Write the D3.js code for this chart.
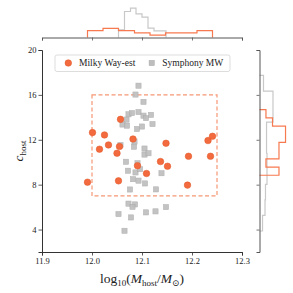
<!DOCTYPE html>
<html>
<head>
<meta charset="utf-8">
<script src="https://cdn.jsdelivr.net/npm/d3@7"></script>
<style>
  html, body { margin: 0; padding: 0; background: #fff; }
  svg text { font-family: "Liberation Serif", "DejaVu Serif", serif; fill: #222; }
</style>
</head>
<body>
<div id="chart"></div>
<script>
// ---- data ----
// Milky Way-est hosts: log10 mass and concentration
const mweMass = [12.001, 12.025, 12.057, 12.082, 12.015, 12.033, 12.055, 12.050, 12.137, 12.091,
                 12.148, 12.151, 12.193, 12.237, 12.232, 12.241, 11.991, 12.053, 12.109, 12.191];
const mweConc = [12.64, 12.43, 13.82, 12.07, 11.16, 11.54, 11.40, 10.80, 10.06, 9.69,
                 11.69, 9.64, 10.53, 10.53, 11.93, 12.31, 8.22, 8.34, 9.00, 7.96];

// Symphony MW hosts
const symMass = [12.093, 12.087, 12.103, 12.073, 12.080, 12.093, 12.103, 12.108, 12.118, 12.069,
                 12.061, 12.070, 12.100, 12.090, 12.121, 12.057, 12.085, 12.084, 12.105, 12.105,
                 12.113, 12.068, 12.091, 12.072, 12.087, 12.096, 12.082, 12.093, 12.106, 12.128,
                 12.076, 12.139, 12.073, 12.086, 12.081, 12.053, 12.108, 12.127, 12.078, 12.065, 12.148];
const symConc = [16.82, 16.03, 15.38, 14.27, 14.38, 14.47, 14.15, 13.93, 14.22, 13.80,
                 13.36, 13.26, 13.18, 12.96, 13.40, 11.53, 11.84, 11.38, 11.22, 10.68,
                 10.80, 10.04, 9.91, 9.24, 9.09, 9.38, 8.49, 8.36, 8.11, 7.58,
                 7.57, 9.02, 6.31, 6.24, 6.02, 5.38, 5.53, 5.62, 5.08, 3.89, 6.00];

// selection box
const boxMass = [12.0, 12.25];
const boxConc = [7, 16];

// marginal histograms (step outlines, density)
const topMweEdges = [11.991, 12.022, 12.053, 12.085, 12.116, 12.147, 12.178, 12.210, 12.241];
const topMweDens  = [4.8, 6.4, 4.8, 3.2, 1.6, 3.2, 3.2, 4.8];
const topSymEdges = [12.053, 12.065, 12.077, 12.088, 12.100, 12.112, 12.124, 12.136, 12.148];
const topSymDens  = [5.4, 18.2, 20.6, 16.6, 14.3, 6.6, 4.7, 4.7];

const rightMweEdges = [8.84, 9.57, 10.30, 11.03, 11.76, 12.49, 13.22, 13.95, 14.68];
const rightMweDens  = [0.205, 0.068, 0.205, 0.205, 0.274, 0.274, 0.137, 0.068];
const rightSymEdges = [3.87, 5.26, 6.64, 8.03, 9.41, 10.80, 12.19, 13.57, 14.96, 16.34, 17.73];
const rightSymDens  = [0.032, 0.058, 0.063, 0.079, 0.079, 0.074, 0.074, 0.142, 0.142, 0.042];

const massTicks = [11.9, 12.0, 12.1, 12.2, 12.3];
const concTicks = [4, 8, 12, 16, 20];

const orange = "#f26a3d";
const grey = "#bdbdbd";
const axisCol = "#333";

// ---- layout ----
const svg = d3.select("#chart").append("svg")
  .attr("width", 293).attr("height", 293);

const x = d3.scaleLinear().domain([11.9, 12.3]).range([42, 242]);
const y = d3.scaleLinear().domain([2, 20]).range([252, 50]);
const yTop = d3.scaleLinear().domain([0, 21]).range([37.5, 7.5]);
const xRight = d3.scaleLinear().domain([0, 0.35]).range([259.5, 292.75]);

// ---- main axes ----
const gx = svg.append("g").attr("transform", "translate(0,252)")
  .call(d3.axisBottom(x).tickValues(massTicks).tickFormat(d3.format(".1f"))
    .tickSizeOuter(0).tickSize(3.5).tickPadding(2));
const gy = svg.append("g").attr("transform", "translate(42,0)")
  .call(d3.axisLeft(y).tickValues(concTicks).tickFormat(d3.format("d"))
    .tickSizeOuter(0).tickSize(3.5).tickPadding(2));
[gx, gy].forEach(g => {
  g.select(".domain").attr("stroke", axisCol).attr("stroke-width", 1);
  g.selectAll(".tick line").attr("stroke", axisCol).attr("stroke-width", 0.8);
  g.selectAll(".tick text").attr("font-size", 8.5).attr("fill", "#333")
    .style("font-family", "Liberation Serif, serif");
});

// selection box
svg.append("rect")
  .attr("x", x(boxMass[0])).attr("y", y(boxConc[1]))
  .attr("width", x(boxMass[1]) - x(boxMass[0]))
  .attr("height", y(boxConc[0]) - y(boxConc[1]))
  .attr("fill", "none").attr("stroke", "#f5855d").attr("stroke-opacity", 0.85)
  .attr("stroke-width", 1.2).attr("stroke-dasharray", "4,2.5");

// Symphony squares
svg.append("g").selectAll("rect")
  .data(d3.range(symMass.length))
  .join("rect")
  .attr("x", i => x(symMass[i]) - 2.6)
  .attr("y", i => y(symConc[i]) - 2.6)
  .attr("width", 5.2).attr("height", 5.2)
  .attr("fill", grey).attr("stroke", "#a8a8a8").attr("stroke-width", 0.5)
  .attr("opacity", 0.9);

// Milky Way-est circles
svg.append("g").selectAll("circle")
  .data(d3.range(mweMass.length))
  .join("circle")
  .attr("cx", i => x(mweMass[i]))
  .attr("cy", i => y(mweConc[i]))
  .attr("r", 3.3)
  .attr("fill", orange).attr("stroke", "#e0582b").attr("stroke-width", 0.5);

// ---- marginal histograms ----
function stepPoints(edges, dens) {
  const pts = [[edges[0], 0]];
  dens.forEach((d, i) => { pts.push([edges[i], d]); pts.push([edges[i + 1], d]); });
  pts.push([edges[edges.length - 1], 0]);
  return pts;
}
const topLine = d3.line().x(d => x(d[0])).y(d => yTop(d[1]));
const rightLine = d3.line().x(d => xRight(d[1])).y(d => y(d[0]));

svg.append("path").attr("d", topLine(stepPoints(topSymEdges, topSymDens)))
  .attr("fill", "none").attr("stroke", "#c8c8c8").attr("stroke-width", 1.2);
svg.append("path").attr("d", topLine(stepPoints(topMweEdges, topMweDens)))
  .attr("fill", "none").attr("stroke", "#f7794f").attr("stroke-width", 1.2);

svg.append("path").attr("d", rightLine(stepPoints(rightSymEdges, rightSymDens)))
  .attr("fill", "none").attr("stroke", "#c8c8c8").attr("stroke-width", 1.2);
svg.append("path").attr("d", rightLine(stepPoints(rightMweEdges, rightMweDens)))
  .attr("fill", "none").attr("stroke", "#f7794f").attr("stroke-width", 1.2);

// marginal axes (no labels)
const gTop = svg.append("g").attr("transform", "translate(0,37.5)")
  .call(d3.axisBottom(x).tickValues(massTicks).tickFormat("").tickSizeOuter(0).tickSize(3));
const gRight = svg.append("g").attr("transform", "translate(259.5,0)")
  .call(d3.axisLeft(y).tickValues(concTicks).tickFormat("").tickSizeOuter(0).tickSize(3));
[gTop, gRight].forEach(g => {
  g.select(".domain").attr("stroke", "#555").attr("stroke-width", 1);
  g.selectAll(".tick line").attr("stroke", "#555").attr("stroke-width", 0.8);
});

// ---- legend ----
const lg = svg.append("g");
lg.append("rect").attr("x", 55).attr("y", 55).attr("width", 175).attr("height", 16.5)
  .attr("rx", 2).attr("fill", "#fff").attr("fill-opacity", 0.85)
  .attr("stroke", "#d4d4d4").attr("stroke-width", 0.8);
lg.append("circle").attr("cx", 68.3).attr("cy", 63).attr("r", 3.3)
  .attr("fill", orange).attr("stroke", "#e0582b").attr("stroke-width", 0.5);
lg.append("text").attr("x", 79).attr("y", 66.3).attr("font-size", 9.5).text("Milky Way-est");
lg.append("rect").attr("x", 149.1).attr("y", 60.4).attr("width", 5.2).attr("height", 5.2)
  .attr("fill", grey).attr("stroke", "#a8a8a8").attr("stroke-width", 0.5);
lg.append("text").attr("x", 162.3).attr("y", 66.3).attr("font-size", 9.5).text("Symphony MW");

// ---- axis titles ----
const xl = svg.append("text").attr("x", 142).attr("y", 282.5)
  .attr("text-anchor", "middle").attr("font-size", 13.5);
xl.append("tspan").text("log");
xl.append("tspan").attr("font-size", 9).attr("dy", 3).text("10");
xl.append("tspan").attr("dy", -3).text("(");
xl.append("tspan").attr("font-style", "italic").text("M");
xl.append("tspan").attr("font-size", 9).attr("dy", 3).text("host");
xl.append("tspan").attr("dy", -3).text("/");
xl.append("tspan").attr("font-style", "italic").text("M");
xl.append("tspan").attr("font-size", 9).attr("dy", 3).text("⊙");
xl.append("tspan").attr("dy", -3).text(")");

const yl = svg.append("text").attr("transform", "translate(23,151) rotate(-90)")
  .attr("text-anchor", "middle").attr("font-size", 13.5);
yl.append("tspan").attr("font-style", "italic").text("c");
yl.append("tspan").attr("font-size", 9).attr("dy", 3).text("host");
</script>
</body>
</html>
